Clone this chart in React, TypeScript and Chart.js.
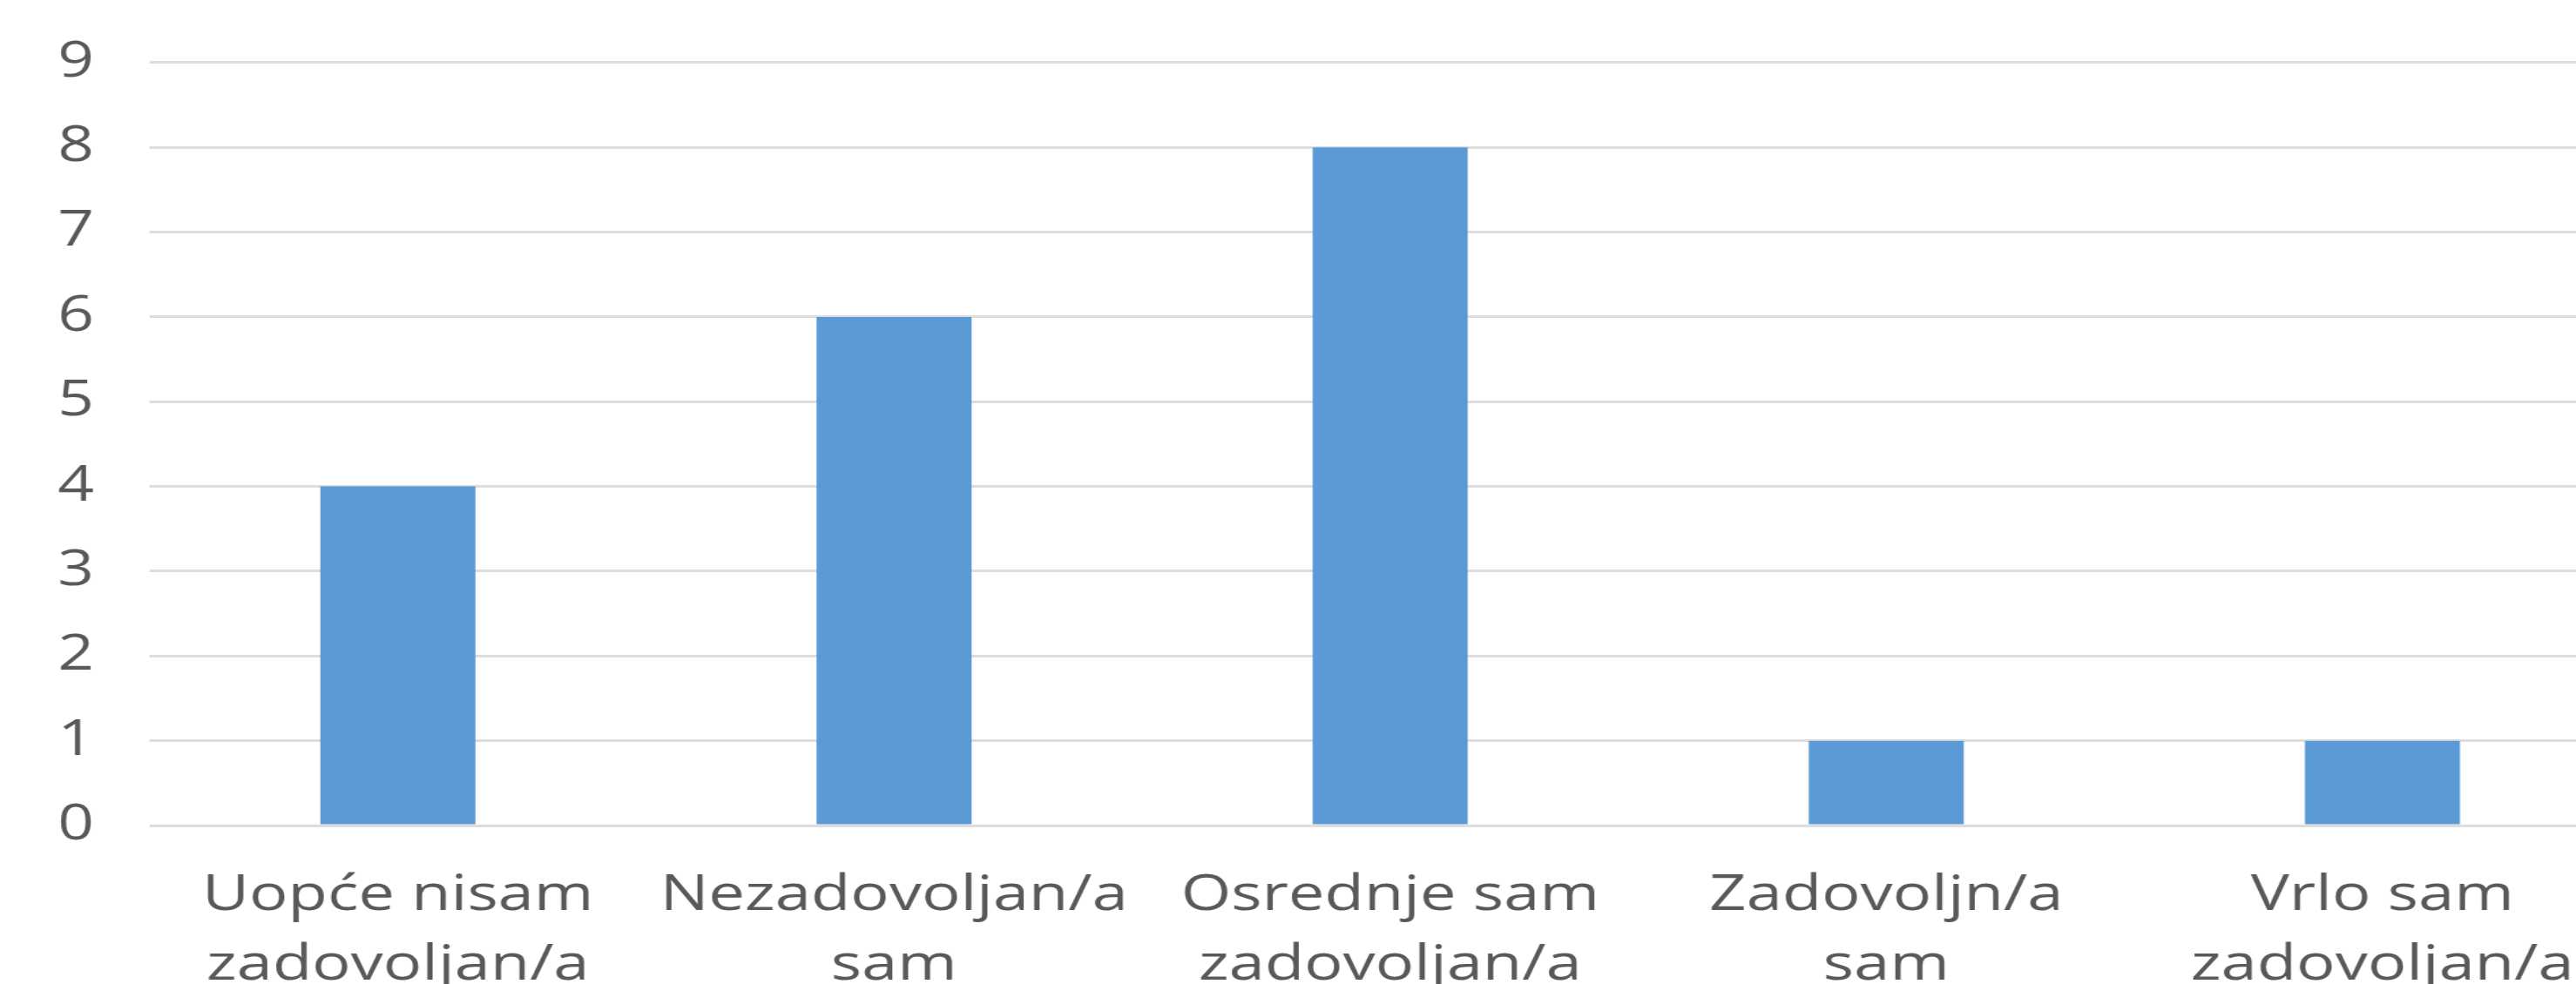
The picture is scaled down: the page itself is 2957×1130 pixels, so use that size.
import React, { useEffect, useRef } from "react";
import { Chart, registerables } from "chart.js";

Chart.register(...registerables);

// ---- data ----
const categories: string[][] = [
  ["Uopće nisam", "zadovoljan/a"],
  ["Nezadovoljan/a", "sam"],
  ["Osrednje sam", "zadovoljan/a"],
  ["Zadovoljn/a", "sam"],
  ["Vrlo sam", "zadovoljan/a"],
];
const counts: number[] = [4, 6, 8, 1, 1];
const yMin = 0;
const yMax = 9;
const yStep = 1;

// ---- layout (display px) ----
const STRETCH = 1.3; // horizontal stretch of the picture
const VIEW_W = 2957;
const VIEW_H = 1130;
const PLOT_LEFT = 172;
const PLOT_RIGHT = 3020;
const PAD_TOP = 44;
const SHIFT_UP = 11;
const PLOT_BOTTOM = 948;
const CANVAS_H = 1200;
const CANVAS_W_DISPLAY = 3100;

export default function App() {
  const ref = useRef<HTMLCanvasElement | null>(null);

  useEffect(() => {
    const canvas = ref.current;
    if (!canvas) return;
    const wInt = Math.round(CANVAS_W_DISPLAY / STRETCH);
    canvas.width = wInt;
    canvas.height = CANVAS_H;
    canvas.style.width = CANVAS_W_DISPLAY + "px";
    canvas.style.height = CANVAS_H + "px";

    const chart = new Chart(canvas, {
      type: "bar",
      data: {
        labels: categories,
        datasets: [
          {
            data: counts,
            backgroundColor: "#5B9BD5",
            borderWidth: 0,
            categoryPercentage: 1,
            barPercentage: 0.3125,
          },
        ],
      },
      options: {
        responsive: false,
        animation: false,
        devicePixelRatio: 1,
        layout: {
          padding: {
            top: PAD_TOP,
            left: 0,
            right: wInt - PLOT_RIGHT / STRETCH,
            bottom: 0,
          },
        },
        plugins: {
          legend: { display: false },
          tooltip: { enabled: false },
          title: { display: false },
        },
        scales: {
          x: {
            grid: { display: false, drawTicks: false },
            border: { display: false },
            ticks: {
              color: "#595959",
              padding: 41,
              maxRotation: 0,
              minRotation: 0,
              autoSkip: false,
              font: { family: "'Open Sans'", size: 57, lineHeight: 80 / 57 },
            },
            afterFit: (scale: any) => {
              scale.height = CANVAS_H - PLOT_BOTTOM - SHIFT_UP;
            },
          },
          y: {
            min: yMin,
            max: yMax,
            grid: {
              color: "#dddddd",
              lineWidth: 3,
              drawTicks: false,
            },
            border: { display: false },
            ticks: {
              stepSize: yStep,
              color: "#595959",
              padding: 64 / STRETCH,
              font: { family: "'Open Sans'", size: 56 },
            },
            afterFit: (scale: any) => {
              scale.width = PLOT_LEFT / STRETCH;
            },
          },
        },
      },
    });
    return () => chart.destroy();
  }, []);

  return (
    <div
      style={{
        position: "fixed",
        left: 0,
        top: 0,
        width: VIEW_W,
        height: VIEW_H,
        overflow: "hidden",
        background: "#ffffff",
      }}
    >
      <canvas ref={ref} style={{ display: "block", marginTop: -SHIFT_UP }} />
    </div>
  );
}
